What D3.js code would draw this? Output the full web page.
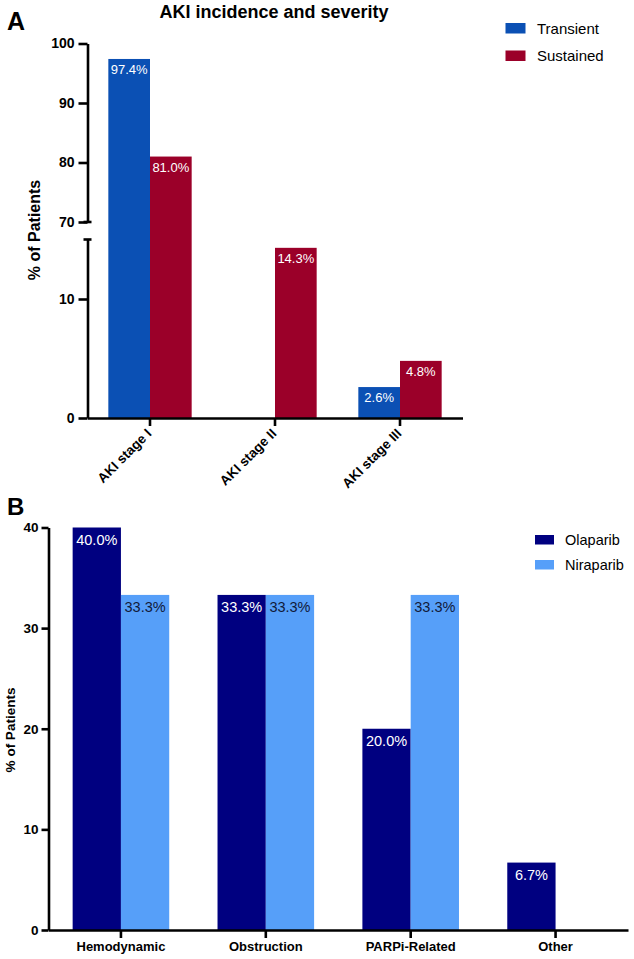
<!DOCTYPE html>
<html><head><meta charset="utf-8">
<script src="https://cdn.jsdelivr.net/npm/d3@7"></script>
<style>
body{margin:0;background:#fff;}
svg{display:block;font-family:"Liberation Sans",Arial,sans-serif;}
</style></head>
<body>
<svg id="chart" width="634" height="959"></svg>
<script>
// ---- Panel A data ----
const aCategories = ["AKI stage I", "AKI stage II", "AKI stage III"];
const aSeries = ["Transient", "Sustained"];
const aTransient = [97.4, 0, 2.6];
const aSustained = [81.0, 14.3, 4.8];
const aUpperTicks = [70, 80, 90, 100];
const aLowerTicks = [0, 10];
const aColors = ["#0B50B4", "#9B0029"];

// ---- Panel B data ----
const bCategories = ["Hemodynamic", "Obstruction", "PARPi-Related", "Other"];
const bSeries = ["Olaparib", "Niraparib"];
const bOlaparib = [40.0, 33.3, 20.0, 6.7];
const bNiraparib = [33.3, 33.3, 33.3, 0];
const bTicks = [0, 10, 20, 30, 40];
const bColors = ["#000080", "#569FF9"];
const bLabelColors = ["#ffffff", "#111a3a"];

const svg = d3.select("#chart");
const AX = 2.6;

// ================= Panel A =================
const gA = svg.append("g");
const xA0 = d3.scaleBand().domain(aCategories).range([87.5, 462.5]).padding(0);
const xA1 = d3.scaleBand().domain(aSeries).range([0, xA0.bandwidth()]).paddingInner(0).paddingOuter(0.5);
const yLow = d3.scaleLinear().domain([0, 15]).range([418, 239.5]);
const yUp = d3.scaleLinear().domain([70, 100]).range([222, 43.5]);
const yA = v => v <= 15 ? yLow(v) : yUp(v);

const aRows = aCategories.map((c, i) => ({cat: c, vals: [aTransient[i], aSustained[i]]}));
aRows.forEach(r => {
  r.vals.forEach((v, j) => {
    if (v <= 0) return;
    const x = xA0(r.cat) + xA1(aSeries[j]);
    const w = xA1.bandwidth();
    gA.append("rect").attr("x", x).attr("y", yA(v)).attr("width", w)
      .attr("height", yLow(0) - yA(v)).attr("fill", aColors[j]);
    gA.append("text").attr("x", x + w / 2).attr("y", yA(v) + 15)
      .attr("text-anchor", "middle").attr("font-size", 13).attr("fill", "#fff")
      .text(v.toFixed(1) + "%");
  });
});

// y axes (broken)
const axUp = gA.append("g").attr("transform", "translate(87.5,0)")
  .call(d3.axisLeft(yUp).tickValues(aUpperTicks).tickSize(9).tickPadding(4).tickSizeOuter(0));
const axLow = gA.append("g").attr("transform", "translate(87.5,0)")
  .call(d3.axisLeft(yLow).tickValues(aLowerTicks).tickSize(9).tickPadding(4).tickSizeOuter(0));
[axUp, axLow].forEach(a => {
  a.select(".domain").attr("stroke", "#000").attr("stroke-width", AX);
  a.selectAll(".tick line").attr("stroke", "#000").attr("stroke-width", AX);
  a.selectAll(".tick text").attr("font-size", 14).attr("font-weight", "bold")
    .attr("fill", "#000").attr("font-family", "Liberation Sans, Arial, sans-serif");
});
// break caps
[yUp(70) , yLow(15)].forEach(yy => {
  gA.append("line").attr("x1", 83.5).attr("x2", 91.5).attr("y1", yy).attr("y2", yy)
    .attr("stroke", "#000").attr("stroke-width", AX);
});

// x axis
const axXA = gA.append("g").attr("transform", `translate(0,${yLow(0)})`)
  .call(d3.axisBottom(xA0).tickSize(8).tickSizeOuter(0).tickFormat(""));
axXA.select(".domain").attr("stroke", "#000").attr("stroke-width", AX);
axXA.selectAll(".tick line").attr("stroke", "#000").attr("stroke-width", AX);
aCategories.forEach(c => {
  const cx = xA0(c) + xA0.bandwidth() / 2;
  gA.append("text").attr("transform", `translate(${cx - 1},${yLow(0) + 13}) rotate(-45)`)
    .attr("text-anchor", "end").attr("font-size", 13.5).attr("font-weight", "bold")
    .attr("dy", "0.35em").text(c);
});

// title, panel letter, y label
gA.append("text").attr("x", 274).attr("y", 18).attr("text-anchor", "middle")
  .attr("font-size", 18).attr("font-weight", "bold").text("AKI incidence and severity");
gA.append("text").attr("x", 7).attr("y", 30).attr("font-size", 25).attr("font-weight", "bold").text("A");
gA.append("text").attr("transform", "translate(40,230) rotate(-90)").attr("text-anchor", "middle")
  .attr("font-size", 16).attr("font-weight", "bold").text("% of Patients");

// legend A
aSeries.forEach((s, i) => {
  const ly = 23 + i * 27.5;
  gA.append("rect").attr("x", 505.5).attr("y", ly).attr("width", 20).attr("height", 10.5).attr("fill", aColors[i]);
  gA.append("text").attr("x", 537).attr("y", ly + 10.5).attr("font-size", 15).text(s);
});

// ================= Panel B =================
const gB = svg.append("g");
const xB0 = d3.scaleBand().domain(bCategories).range([48.5, 628]).padding(0);
const xB1 = d3.scaleBand().domain(bSeries).range([0, xB0.bandwidth()]).paddingInner(0).paddingOuter(0.5);
const yB = d3.scaleLinear().domain([0, 40]).range([930, 527.5]);

bCategories.forEach((c, i) => {
  [bOlaparib[i], bNiraparib[i]].forEach((v, j) => {
    if (v <= 0) return;
    const x = xB0(c) + xB1(bSeries[j]);
    const w = xB1.bandwidth();
    gB.append("rect").attr("x", x).attr("y", yB(v)).attr("width", w)
      .attr("height", yB(0) - yB(v)).attr("fill", bColors[j]);
    gB.append("text").attr("x", x + w / 2).attr("y", yB(v) + 17.5)
      .attr("text-anchor", "middle").attr("font-size", 14.5).attr("fill", bLabelColors[j])
      .text(v.toFixed(1) + "%");
  });
});

const axYB = gB.append("g").attr("transform", "translate(48.5,0)")
  .call(d3.axisLeft(yB).tickValues(bTicks).tickSize(7).tickPadding(3).tickSizeOuter(0));
axYB.select(".domain").attr("stroke", "#000").attr("stroke-width", AX);
axYB.selectAll(".tick line").attr("stroke", "#000").attr("stroke-width", AX);
axYB.selectAll(".tick text").attr("font-size", 13.5).attr("font-weight", "bold").attr("fill", "#000")
  .attr("font-family", "Liberation Sans, Arial, sans-serif");

const axXB = gB.append("g").attr("transform", `translate(0,${yB(0)})`)
  .call(d3.axisBottom(xB0).tickSize(8).tickPadding(4).tickSizeOuter(0));
axXB.select(".domain").attr("stroke", "#000").attr("stroke-width", AX);
axXB.selectAll(".tick line").attr("stroke", "#000").attr("stroke-width", AX);
axXB.selectAll(".tick text").attr("font-size", 13).attr("font-weight", "bold").attr("fill", "#000")
  .attr("font-family", "Liberation Sans, Arial, sans-serif");

gB.append("text").attr("x", 7).attr("y", 515).attr("font-size", 24).attr("font-weight", "bold").text("B");
gB.append("text").attr("transform", "translate(15,730) rotate(-90)").attr("text-anchor", "middle")
  .attr("font-size", 13.5).attr("font-weight", "bold").text("% of Patients");

bSeries.forEach((s, i) => {
  const ly = 535 + i * 25;
  gB.append("rect").attr("x", 535).attr("y", ly).attr("width", 19).attr("height", 9.5).attr("fill", bColors[i]);
  gB.append("text").attr("x", 565).attr("y", ly + 10).attr("font-size", 14.5).text(s);
});
</script>
</body></html>
